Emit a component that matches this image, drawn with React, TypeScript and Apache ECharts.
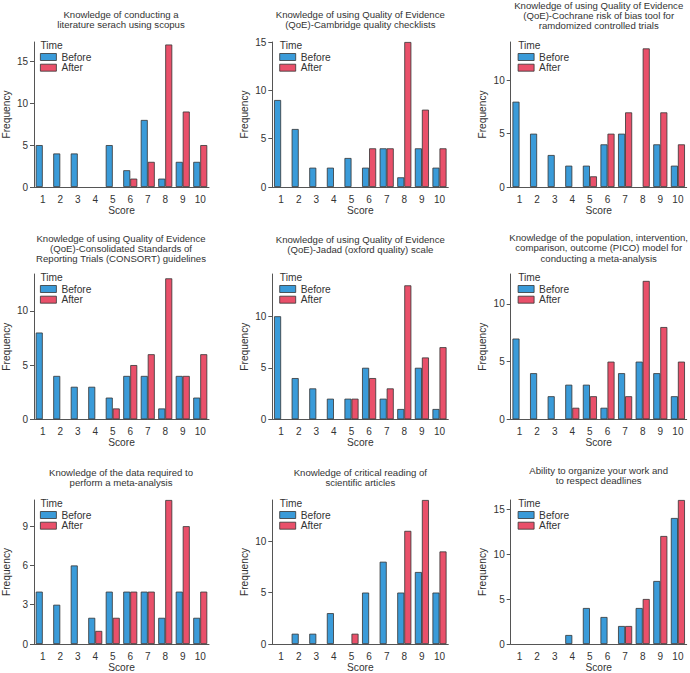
import React, { useEffect, useRef } from "react";
import * as echarts from "echarts";

const CATEGORIES = ["1", "2", "3", "4", "5", "6", "7", "8", "9", "10"];
const SERIES_NAMES = ["Before", "After"];
const LEGEND_TITLE = "Time";
const X_NAME = "Score";
const Y_NAME = "Frequency";

const TITLES = [
  "Knowledge of conducting a\nliterature serach using scopus",
  "Knowledge of using Quality of Evidence\n(QoE)-Cambridge quality checklists",
  "Knowledge of using Quality of Evidence\n(QoE)-Cochrane risk of bias tool for\nramdomized controlled trials",
  "Knowledge of using Quality of Evidence\n(QoE)-Consolidated Standards of\nReporting Trials (CONSORT) guidelines",
  "Knowledge of using Quality of Evidence\n(QoE)-Jadad (oxford quality) scale",
  "Knowledge of the population, intervention,\ncomparison, outcome (PICO) model for\nconducting a meta-analysis",
  "Knowledge of the data required to\nperform a meta-analysis",
  "Knowledge of critical reading of\nscientific articles",
  "Ability to organize your work and\nto respect deadlines",
];

const before1 = [5, 4, 4, 0, 5, 2, 8, 1, 3, 3];
const after1 = [0, 0, 0, 0, 0, 1, 3, 17, 9, 5];
const before2 = [9, 6, 2, 2, 3, 2, 4, 1, 4, 2];
const after2 = [0, 0, 0, 0, 0, 4, 4, 15, 8, 4];
const before3 = [8, 5, 3, 2, 2, 4, 5, 0, 4, 2];
const after3 = [0, 0, 0, 0, 1, 5, 7, 13, 7, 4];
const before4 = [8, 4, 3, 3, 2, 4, 4, 1, 4, 2];
const after4 = [0, 0, 0, 0, 1, 5, 6, 13, 4, 6];
const before5 = [10, 4, 3, 2, 2, 5, 2, 1, 5, 1];
const after5 = [0, 0, 0, 0, 2, 4, 3, 13, 6, 7];
const before6 = [7, 4, 2, 3, 3, 1, 4, 5, 4, 2];
const after6 = [0, 0, 0, 1, 2, 5, 2, 12, 8, 5];
const before7 = [4, 3, 6, 2, 4, 4, 4, 2, 4, 2];
const after7 = [0, 0, 0, 1, 2, 4, 4, 11, 9, 4];
const before8 = [0, 1, 1, 3, 0, 5, 8, 5, 7, 5];
const after8 = [0, 0, 0, 0, 1, 0, 0, 11, 14, 9];
const before9 = [0, 0, 0, 1, 4, 3, 2, 4, 7, 14];
const after9 = [0, 0, 0, 0, 0, 0, 2, 5, 12, 16];

const BEFORE = [before1, before2, before3, before4, before5, before6, before7, before8, before9];
const AFTER = [after1, after2, after3, after4, after5, after6, after7, after8, after9];

const yTicks5a = [0, 5, 10, 15];
const yTicks5b = [0, 5, 10];
const yTicks3 = [0, 3, 6, 9];
const Y_TICKS = [yTicks5a, yTicks5a, yTicks5b, yTicks5b, yTicks5b, yTicks5b, yTicks3, yTicks5b, yTicks5a];
const Y_MAX = [17.3, 15, 13.6, 13.4, 14.1, 12.6, 11, 14, 16];

// layout
const COL_X = [33, 272.3, 510.7];
const ROW_TOP = [42, 274, 500];
const ROW_BOTTOM = [187, 419.3, 645.3];
const PLOT_W = 176;
const TITLE_Y = [14, 14, 5.3, 238.3, 239, 237.7, 472, 472, 470.3];

const FONT = "'Liberation Sans', Arial, Helvetica, sans-serif";
const FS = 9.6;
const TEXT = "#333";
const AXIS = "#555";
const BLUE = "#3a9bd9";
const RED = "#e9506a";
const LH = 10.3;

export default function App() {
  const ref = useRef<HTMLDivElement>(null);
  useEffect(() => {
    if (!ref.current) return;
    const chart = echarts.init(ref.current, null, { renderer: "svg" });
    const grids: any[] = [];
    const xAxes: any[] = [];
    const yAxes: any[] = [];
    const series: any[] = [];
    const legends: any[] = [];
    const graphics: any[] = [];
    for (let i = 0; i < 9; i++) {
      const c = i % 3;
      const r = Math.floor(i / 3);
      const left = COL_X[c];
      const top = ROW_TOP[r];
      const height = ROW_BOTTOM[r] - ROW_TOP[r];
      grids.push({ left, top, width: PLOT_W, height, containLabel: false });
      xAxes.push({
        type: "category",
        gridIndex: i,
        data: CATEGORIES,
        name: X_NAME,
        nameLocation: "middle",
        nameGap: 18,
        nameTextStyle: { color: TEXT, fontSize: FS + 0.6, fontFamily: FONT },
        axisLine: { lineStyle: { color: AXIS, width: 1 } },
        axisTick: { alignWithLabel: true, length: 4, lineStyle: { color: AXIS } },
        axisLabel: { color: TEXT, fontSize: FS + 0.4, fontFamily: FONT, margin: 7 },
        splitLine: { show: false },
      });
      yAxes.push({
        type: "value",
        gridIndex: i,
        min: 0,
        max: Y_MAX[i],
        name: Y_NAME,
        nameLocation: "middle",
        nameGap: 23,
        nameTextStyle: { color: TEXT, fontSize: FS + 0.6, fontFamily: FONT },
        axisLine: { show: true, lineStyle: { color: AXIS, width: 1 } },
        axisTick: { show: true, length: 4, lineStyle: { color: AXIS }, customValues: Y_TICKS[i] },
        axisLabel: { color: TEXT, fontSize: FS + 0.4, fontFamily: FONT, margin: 6, customValues: Y_TICKS[i] },
        splitLine: { show: false },
      });
      const sets = [BEFORE[i], AFTER[i]];
      const colors = [BLUE, RED];
      for (let s = 0; s < 2; s++) {
        series.push({
          type: "bar",
          name: SERIES_NAMES[s],
          xAxisIndex: i,
          yAxisIndex: i,
          data: sets[s].map((v) => (v === 0 ? "-" : v)),
          barGap: "0%",
          barCategoryGap: "20%",
          itemStyle: { color: colors[s], borderColor: "#333", borderWidth: 0.8 },
          emphasis: { disabled: true },
        });
      }
      legends.push({
        data: SERIES_NAMES.map((n) => ({ name: n, icon: "rect" })),
        orient: "vertical",
        left: left + 7,
        top: top + 10,
        padding: 0,
        itemWidth: 16,
        itemHeight: 7,
        itemGap: 0.7,
        selectedMode: false,
        itemStyle: { borderColor: "#333", borderWidth: 0.8 },
        textStyle: { color: TEXT, fontSize: FS + 0.6, fontFamily: FONT, lineHeight: 10 },
      });
      graphics.push({
        type: "text",
        x: left + 7.5,
        y: top + 3,
        style: {
          text: LEGEND_TITLE,
          fill: TEXT,
          font: `${FS + 0.6}px ${FONT}`,
          textAlign: "left",
          textVerticalAlign: "middle",
        },
      });
      graphics.push({
        type: "text",
        x: left + PLOT_W / 2,
        y: TITLE_Y[i] - LH / 2,
        style: {
          text: TITLES[i],
          fill: TEXT,
          font: `${FS}px ${FONT}`,
          lineHeight: LH,
          textAlign: "center",
          textVerticalAlign: "top",
        },
      });
    }
    chart.setOption({
      animation: false,
      backgroundColor: "#fff",
      grid: grids,
      xAxis: xAxes,
      yAxis: yAxes,
      series,
      legend: legends,
      graphic: graphics,
    });
    return () => chart.dispose();
  }, []);
  return (
    <div
      ref={ref}
      style={{ position: "absolute", left: 0, top: 0, width: 690, height: 673 }}
    />
  );
}
